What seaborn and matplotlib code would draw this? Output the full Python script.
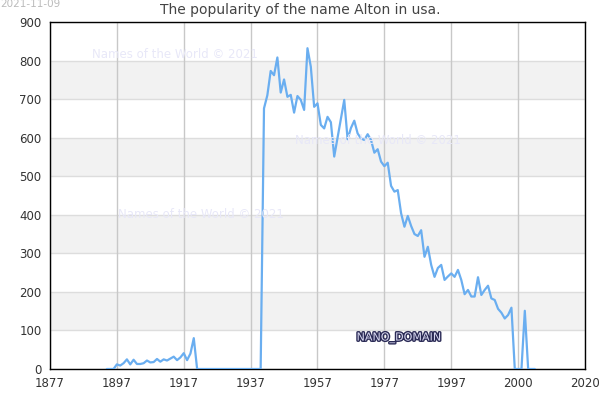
import matplotlib
matplotlib.use("Agg")
import matplotlib.pyplot as plt
import matplotlib.patheffects as pe
import seaborn as sns
import pandas as pd

years = list(range(1894, 2023))
values = [
    0, 0, 0, 12, 9, 15, 25, 12, 24, 13,          # 1894-1903
    13, 15, 22, 17, 18, 26, 19, 25, 22, 27,      # 1904-1913
    32, 23, 30, 41, 23, 40, 80, 0, 0, 0,         # 1914-1923
    0, 0, 0, 0, 0, 0, 0, 0, 0, 0,                # 1924-1933
    0, 0, 0, 0, 0, 0, 0, 676, 710, 773,          # 1934-1943
    762, 808, 717, 751, 706, 711, 665, 708, 698, 672,  # 1944-1953
    832, 784, 680, 689, 633, 624, 654, 640, 551, 600,  # 1954-1963
    650, 698, 596, 625, 644, 611, 598, 594, 609, 594,  # 1964-1973
    561, 570, 538, 526, 535, 475, 460, 464, 404, 369,  # 1974-1983
    397, 371, 350, 345, 360, 291, 317, 270, 239, 262,  # 1984-1993
    270, 231, 240, 248, 239, 257, 231, 194, 205, 188,  # 1994-2003
    188, 238, 192, 205, 216, 183, 179, 156, 146, 131,  # 2004-2013
    140, 159, 0, 0, 0, 151, 0, 0, 0,                   # 2014-2022
]
tick_pos = [1877, 1897, 1917, 1937, 1957, 1977, 1997, 2017, 2037]
tick_labels = ["1877", "1897", "1917", "1937", "1957", "1977", "1997", "2000", "2020"]
y_ticks = list(range(0, 1000, 100))
title = "The popularity of the name Alton in usa."
date_text = "2021-11-09"
watermark = "Names of the World \u00a9 2021"

sns.set_theme(style="white")
plt.rcParams['font.family'] = ['DejaVu Sans']

fig = plt.figure(figsize=(6, 4), dpi=100)
ax = fig.add_axes([50/600, 31/400, 535/600, 347/400])

df = pd.DataFrame({"year": years, "value": values})

# alternating bands
for lo in range(100, 900, 200):
    ax.axhspan(lo, lo + 100, color="#f2f2f2", zorder=0, lw=0)
for yv in y_ticks:
    ax.axhline(yv, color="#dddddd", lw=1, zorder=1)
for xv in tick_pos:
    ax.axvline(xv, color="#c8c8c8", lw=1, zorder=1)

sns.lineplot(data=df, x="year", y="value", ax=ax, color="#6aaef0", lw=1.6, zorder=3)

ax.set_xlim(1877, 2037)
ax.set_ylim(0, 900)
ax.set_xticks(tick_pos)
ax.set_xticklabels(tick_labels)
ax.set_yticks(y_ticks)
ax.tick_params(axis="both", length=0, labelsize=8.5, colors="#333333")
ax.tick_params(axis="x", pad=6)
ax.tick_params(axis="y", pad=6)
ax.set_xlabel("")
ax.set_ylabel("")
for s in ax.spines.values():
    s.set_visible(True)
    s.set_color("black")
    s.set_linewidth(1)

fig.text(0.5, 1 - 10/400, title, ha="center", va="center", fontsize=10, color="#444444")
fig.text(0.0, 1 - 4/400, date_text, ha="left", va="center", fontsize=7.5, color="#bbbbbb")

wm_color = "#e8e8f8"
fig.text(92/600, 1 - 55/400, watermark, ha="left", va="center", fontsize=8.5, color=wm_color, zorder=2)
fig.text(295/600, 1 - 140/400, watermark, ha="left", va="center", fontsize=8.5, color=wm_color, zorder=2)
fig.text(118/600, 1 - 215/400, watermark, ha="left", va="center", fontsize=8.5, color=wm_color, zorder=2)

t = fig.text(399/600, 1 - 338/400, "NANO_DOMAIN", ha="center", va="center", fontsize=8,
             color="#d8d8f0", zorder=5)
t.set_path_effects([pe.Stroke(linewidth=2, foreground="#2a2a55"), pe.Normal()])

fig.savefig("out.png", dpi=100)
